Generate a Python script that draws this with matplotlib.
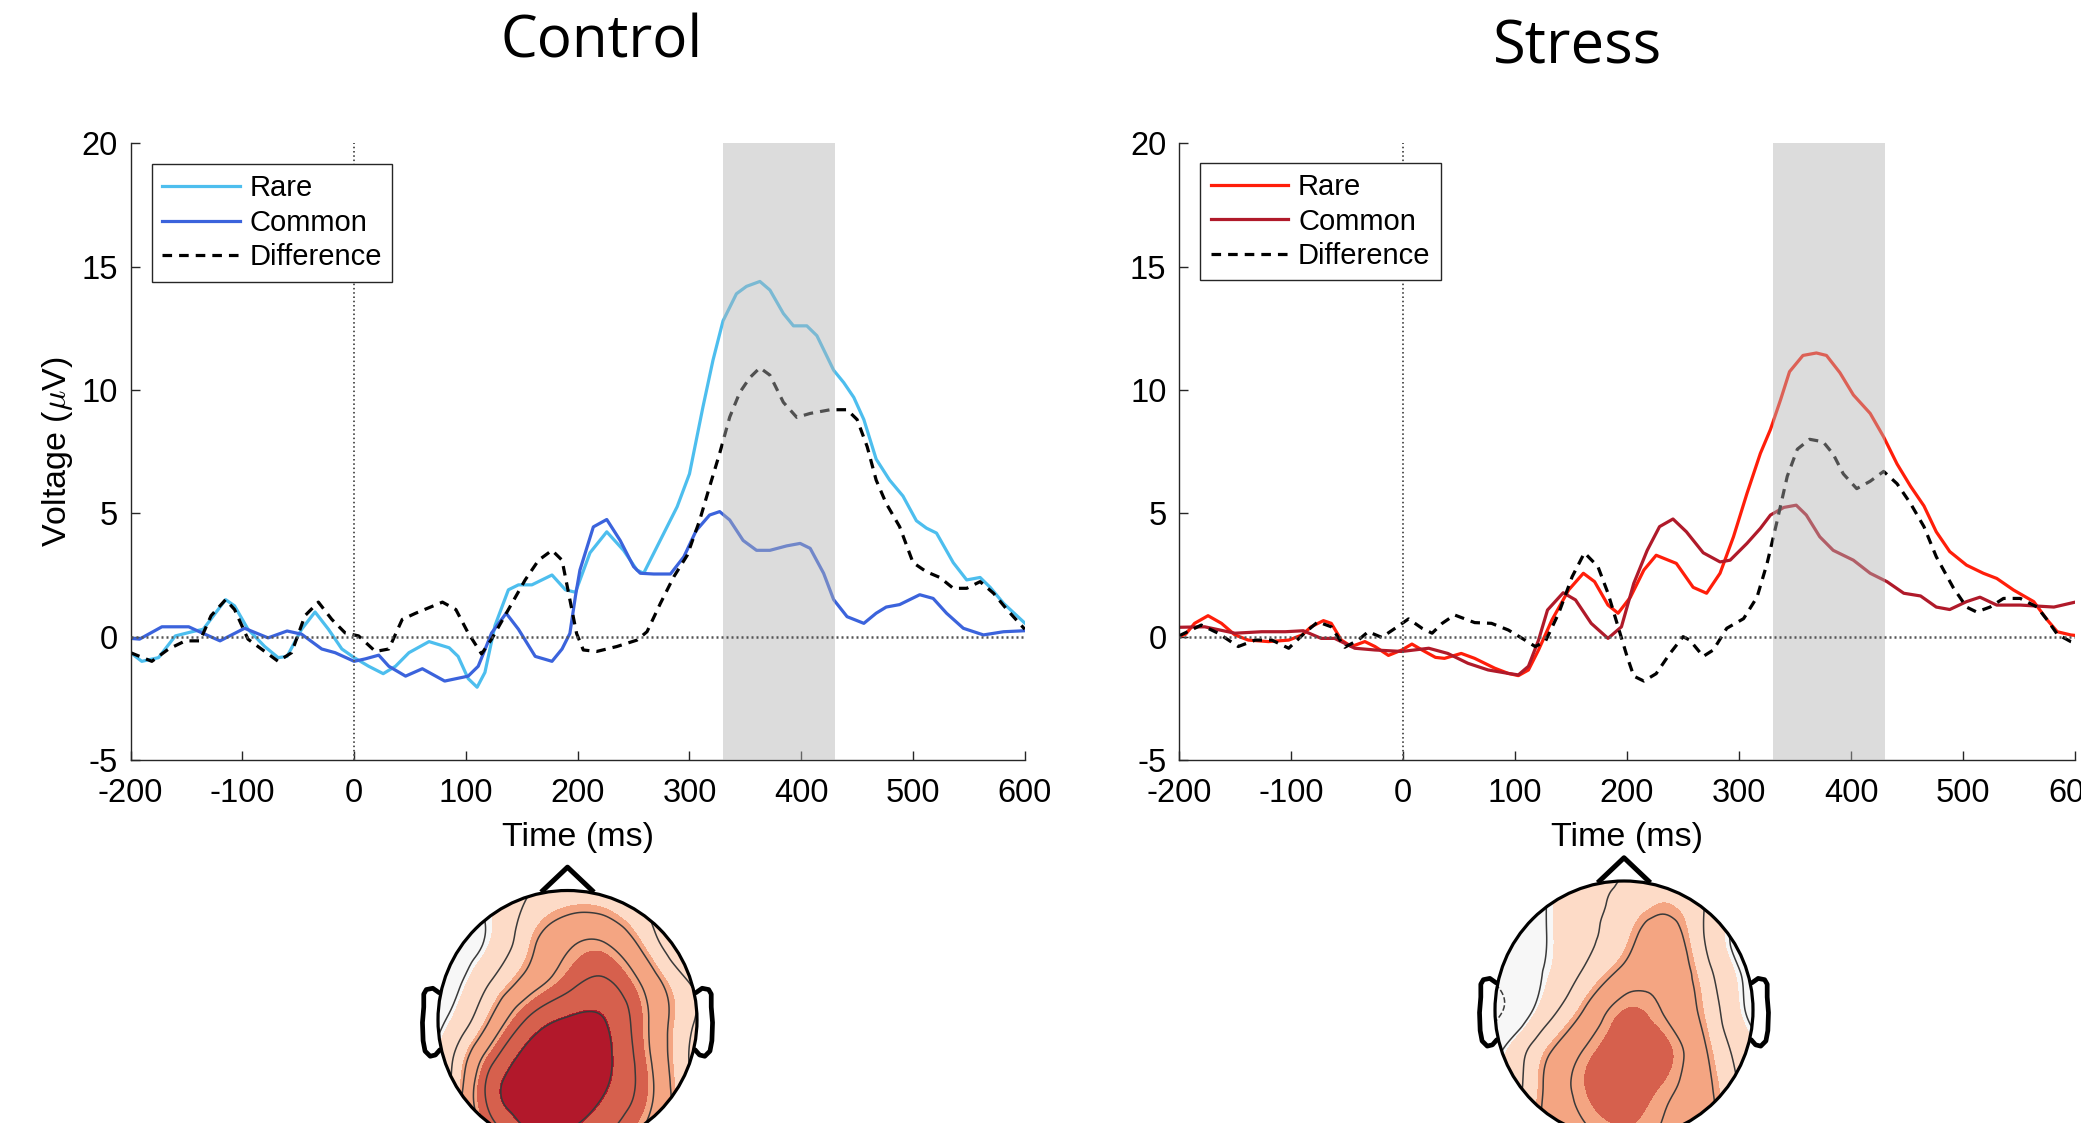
import numpy as np
import matplotlib
matplotlib.use("Agg")
import matplotlib.pyplot as plt
import matplotlib.tri as mtri
from matplotlib.patches import Circle

plt.rcParams['font.family'] = ['Liberation Sans', 'DejaVu Sans']
plt.rcParams['axes.unicode_minus'] = False
plt.rcParams['mathtext.fontset'] = 'cm'

# ---------------- ERP data (ms, microvolts) ----------------
ctl_rare_t = [-200, -190, -175, -160, -145, -135, -115, -107, -95, -80, -68, -60, -47, -35, -23, -11, 0, 13, 26, 37,
              49, 67, 85, 93, 102, 110, 117, 126, 138, 147, 159, 177, 189, 198, 211, 226, 241, 253, 259, 271, 289,
              300, 312, 321, 330, 342, 351, 363, 372, 384, 393, 405, 414, 429, 438, 447, 456, 467, 479, 491, 503,
              512, 521, 536, 548, 560, 569, 581, 600]
ctl_rare_v = [-0.65, -1.0, -0.85, 0.03, 0.2, 0.3, 1.5, 1.25, 0.3, -0.4, -0.85, -0.8, 0.3, 1.0, 0.3, -0.5, -0.85, -1.2,
              -1.5, -1.2, -0.65, -0.2, -0.45, -0.8, -1.7, -2.05, -1.45, 0.45, 1.9, 2.1, 2.1, 2.5, 1.9, 1.8, 3.4, 4.25,
              3.5, 2.7, 2.57, 3.65, 5.27, 6.6, 9.3, 11.2, 12.8, 13.9, 14.2, 14.4, 14.05, 13.1, 12.6, 12.6, 12.2, 10.8,
              10.3, 9.7, 8.8, 7.2, 6.35, 5.7, 4.7, 4.4, 4.2, 3.0, 2.3, 2.4, 2.0, 1.35, 0.55]

ctl_common_t = [-200, -192, -172, -148, -136, -120, -98, -77, -60, -47, -29, -17, 0, 10, 22, 31, 46, 61, 81, 102, 111,
                123, 136, 147, 162, 177, 186, 193, 198, 202, 214, 226, 238, 250, 256, 268, 283, 295, 306, 318, 327,
                336, 348, 360, 372, 387, 399, 408, 420, 429, 441, 456, 467, 476, 488, 506, 518, 530, 545, 563, 581, 600]
ctl_common_v = [-0.07, -0.1, 0.4, 0.4, 0.15, -0.17, 0.34, -0.05, 0.23, 0.1, -0.5, -0.65, -1.0, -0.9, -0.75, -1.2, -1.6,
                -1.3, -1.8, -1.6, -1.2, 0.15, 0.95, 0.3, -0.8, -1.0, -0.5, 0.13, 1.65, 2.7, 4.45, 4.75, 3.9, 2.84, 2.57,
                2.54, 2.54, 3.24, 4.3, 4.93, 5.07, 4.73, 3.9, 3.5, 3.5, 3.68, 3.78, 3.58, 2.57, 1.5, 0.81, 0.54, 0.95,
                1.2, 1.3, 1.7, 1.55, 0.95, 0.34, 0.07, 0.2, 0.24]

ctl_diff_t = [-200, -181, -166, -151, -138, -128, -115, -107, -95, -83, -68, -56, -44, -32, -20, -8, 4, 19, 31, 43, 55,
              79, 91, 102, 114, 123, 138, 153, 165, 177, 186, 193, 199, 205, 217, 235, 253, 262, 274, 286, 298, 309,
              318, 327, 336, 345, 354, 363, 372, 384, 396, 408, 426, 441, 450, 459, 467, 476, 488, 500, 512, 524, 536,
              548, 560, 572, 584, 600]
ctl_diff_v = [-0.65, -1.0, -0.5, -0.17, -0.17, 0.85, 1.5, 1.1, -0.1, -0.5, -1.0, -0.65, 0.85, 1.4, 0.7, 0.15, 0.03, -0.6,
              -0.5, 0.7, 0.95, 1.4, 1.1, 0.15, -0.7, -0.1, 1.1, 2.3, 3.1, 3.5, 3.1, 1.5, 0.13, -0.54, -0.6, -0.4, -0.14,
              0.2, 1.35, 2.43, 3.3, 4.7, 6.08, 7.43, 8.9, 9.9, 10.5, 10.9, 10.6, 9.5, 8.89, 9.05, 9.2, 9.2, 8.8, 7.7,
              6.35, 5.4, 4.46, 3.0, 2.63, 2.4, 1.96, 1.96, 2.23, 1.76, 1.1, 0.3]

str_rare_t = [-200, -194, -186, -174, -162, -150, -138, -120, -102, -90, -82, -71, -64, -55, -46, -34, -25, -13, -1, 8,
              17, 29, 37, 52, 64, 82, 94, 103, 112, 121, 133, 148, 161, 171, 183, 192, 203, 215, 226, 244, 259, 271,
              283, 295, 307, 319, 328, 337, 345, 357, 369, 378, 390, 402, 417, 429, 441, 453, 465, 476, 488, 503, 518,
              530, 545, 563, 575, 584, 596, 600]
str_rare_v = [0.0, 0.1, 0.54, 0.85, 0.54, 0.07, -0.14, -0.2, -0.14, 0.07, 0.4, 0.65, 0.54, -0.14, -0.4, -0.2, -0.4, -0.76,
              -0.54, -0.3, -0.54, -0.84, -0.88, -0.68, -0.88, -1.28, -1.49, -1.58, -1.35, -0.54, 0.68, 1.9, 2.57, 2.23,
              1.28, 0.95, 1.6, 2.7, 3.3, 2.97, 2.0, 1.76, 2.57, 4.05, 5.8, 7.43, 8.4, 9.6, 10.74, 11.4, 11.5, 11.4,
              10.7, 9.8, 9.05, 8.1, 7.0, 6.1, 5.3, 4.25, 3.45, 2.9, 2.57, 2.36, 1.89, 1.42, 0.68, 0.2, 0.07, 0.05]

str_common_t = [-200, -177, -150, -126, -105, -89, -73, -61, -43, -25, -1, 23, 40, 58, 76, 94, 103, 112, 121, 129, 143,
                154, 168, 183, 195, 206, 218, 229, 241, 253, 268, 283, 292, 307, 319, 328, 340, 351, 360, 372, 384, 402,
                417, 432, 447, 462, 476, 488, 503, 515, 530, 551, 581, 600]
str_common_v = [0.38, 0.4, 0.14, 0.2, 0.2, 0.24, -0.07, -0.07, -0.47, -0.54, -0.6, -0.47, -0.68, -1.08, -1.35, -1.49,
                -1.55, -1.2, -0.14, 1.08, 1.78, 1.49, 0.54, -0.07, 0.4, 2.16, 3.5, 4.46, 4.77, 4.25, 3.4, 3.03, 3.1,
                3.78, 4.39, 4.93, 5.24, 5.33, 4.93, 4.05, 3.5, 3.1, 2.57, 2.23, 1.76, 1.65, 1.2, 1.1, 1.42, 1.6, 1.28,
                1.28, 1.2, 1.4]

str_diff_t = [-200, -180, -165, -147, -132, -117, -102, -88, -76, -64, -52, -40, -31, -19, -7, 5, 17, 26, 35, 46, 64, 79,
              94, 109, 118, 127, 139, 151, 162, 174, 183, 192, 200, 206, 215, 226, 238, 250, 256, 268, 277, 289, 304,
              316, 325, 334, 343, 352, 363, 375, 384, 393, 405, 417, 429, 441, 453, 465, 476, 491, 503, 512, 524, 536,
              551, 566, 575, 584, 596, 600]
str_diff_v = [0.03, 0.47, 0.14, -0.4, -0.14, -0.14, -0.47, 0.14, 0.6, 0.4, -0.43, -0.14, 0.2, -0.03, 0.34, 0.72, 0.34,
              0.14, 0.54, 0.88, 0.57, 0.54, 0.27, -0.14, -0.4, -0.2, 0.95, 2.43, 3.4, 2.84, 1.76, 0.4, -0.8, -1.6,
              -1.8, -1.5, -0.7, 0.0, -0.14, -0.8, -0.54, 0.34, 0.73, 1.6, 2.97, 4.7, 6.5, 7.6, 8.0, 7.9, 7.4, 6.6, 6.0,
              6.3, 6.7, 6.2, 5.4, 4.46, 3.24, 2.0, 1.2, 1.0, 1.2, 1.55, 1.55, 1.2, 0.68, 0.1, -0.2, -0.25]

window = (330, 430)
x_ticks = [-200, -100, 0, 100, 200, 300, 400, 500, 600]
y_ticks = [-5, 0, 5, 10, 15, 20]
labels = ['Rare', 'Common', 'Difference']

# ---------------- topography (scalp map, microvolts) ----------------
topo_grid = [-1.2, -0.9, -0.6, -0.3, 0.0, 0.3, 0.6, 0.9, 1.2]
# rows from front (top) to back (bottom), columns left to right
ctl_topo = [
    [-0.3, 0.2, 0.8, 1.6, 2.2, 2.0, 1.4, 0.8, 0.3],
    [0.0, 0.5, 1.0, 2.2, 2.9, 2.8, 2.0, 1.2, 0.8],
    [-0.2, 0.3, 1.0, 2.9, 4.3, 4.5, 2.8, 1.1, 0.5],
    [-0.3, 0.4, 2.0, 3.8, 5.3, 5.9, 4.2, 2.2, 1.0],
    [0.0, 1.0, 3.3, 6.0, 7.2, 7.0, 4.8, 2.5, 1.2],
    [0.2, 1.9, 5.3, 7.6, 8.2, 7.3, 5.0, 2.3, 1.0],
    [0.5, 2.2, 6.2, 7.9, 8.0, 6.9, 5.1, 2.5, 1.5],
    [1.5, 2.8, 4.8, 6.8, 6.8, 5.8, 4.2, 2.5, 1.5],
    [1.5, 2.5, 3.8, 5.0, 5.2, 4.6, 3.6, 2.5, 1.5],
]
str_topo = [
    [-0.5, 0.0, 0.5, 1.2, 1.8, 2.2, 1.8, 1.0, 0.3],
    [-0.2, 0.2, 0.8, 1.8, 2.2, 2.8, 2.2, 1.2, 0.5],
    [-0.5, 0.0, 0.8, 1.8, 2.7, 3.8, 2.2, 0.5, 0.0],
    [-0.8, 0.0, 0.9, 2.2, 3.6, 4.3, 2.7, 0.8, 0.0],
    [-1.2, -0.3, 1.5, 3.4, 5.0, 4.5, 3.1, 1.0, 0.0],
    [-0.5, 1.0, 3.0, 4.6, 5.6, 5.3, 3.6, 1.6, 0.5],
    [0.5, 1.3, 3.5, 5.0, 5.6, 4.9, 3.8, 2.0, 1.0],
    [1.0, 2.0, 3.5, 4.5, 5.0, 4.5, 3.8, 2.5, 1.5],
    [1.0, 2.0, 3.2, 4.0, 4.5, 4.2, 3.5, 2.5, 1.5],
]
topo_fill_levels = [-5, -3, -1, 1, 3, 5, 7, 9, 11]
topo_fill_colors = ['#92c5de', '#d1e5f0', '#f7f7f7', '#fddbc7', '#f4a582', '#d6604d', '#b2182b', '#67001f']
topo_line_levels = [-1.7, -0.45, 0.8, 2.05, 3.3, 4.55, 5.8, 7.05]

W, H = 2081, 1123
fig = plt.figure(figsize=(W / 100, H / 100), dpi=100)


def px_axes(left, top, right, bottom):
    return fig.add_axes([left / W, 1 - bottom / H, (right - left) / W, (bottom - top) / H])


def erp_panel(ax, series, colors, legend_x, legend_top):
    ax.axvspan(*window, color='#b3b3b3', alpha=0.45, lw=0, zorder=3)
    handles = []
    for (t, v), c, lab in zip(series[:2], colors, labels[:2]):
        h, = ax.plot(t, v, color=c, lw=2.3, zorder=2, label=lab, solid_joinstyle='round')
        handles.append(h)
    t, v = series[2]
    h, = ax.plot(t, v, color='black', lw=2.3, dashes=(3.0, 2.2), zorder=2, label=labels[2])
    handles.append(h)
    ax.axhline(0, color='#555555', lw=1.8, dashes=(0.8, 1.2), zorder=4)
    ax.axvline(0, color='#555555', lw=1.4, dashes=(0.8, 1.4), zorder=4)
    ax.set_xlim(-200, 600)
    ax.set_ylim(-5, 20)
    ax.set_xticks(x_ticks)
    ax.set_yticks(y_ticks)
    for s in ['top', 'right']:
        ax.spines[s].set_visible(False)
    for s in ['left', 'bottom']:
        ax.spines[s].set_color('#262626')
        ax.spines[s].set_linewidth(1.0)
    ax.tick_params(direction='in', length=6.5, width=1.0, colors='#262626', labelcolor='black', labelsize=23.5)
    ax.tick_params(axis='x', pad=13)
    ax.tick_params(axis='y', pad=9)
    ax.set_xlabel('Time (ms)', fontsize=24.5, labelpad=9)
    leg = ax.legend(handles=handles, loc='upper left', bbox_to_anchor=(legend_x, legend_top), borderaxespad=0,
                    fontsize=21, handlelength=2.65, handletextpad=0.35, labelspacing=0.22, borderpad=0.35,
                    fancybox=False, framealpha=1)
    leg.get_frame().set_edgecolor('#262626')
    leg.get_frame().set_linewidth(1.0)
    leg.set_zorder(6)


ax1 = px_axes(130.6, 143.3, 1024.8, 760)
erp_panel(ax1, [(ctl_rare_t, ctl_rare_v), (ctl_common_t, ctl_common_v), (ctl_diff_t, ctl_diff_v)],
          ['#4dbeee', '#3b63dc'], 0.024, 0.966)
ax1.set_ylabel(r'Voltage ($\mu$V)', fontsize=24.5, labelpad=5)

ax2 = px_axes(1178.9, 143.3, 2075.2, 760)
erp_panel(ax2, [(str_rare_t, str_rare_v), (str_common_t, str_common_v), (str_diff_t, str_diff_v)],
          ['#ff1e0a', '#b01a2a'], 0.024, 0.968)

fig.text(602 / W, 1 - 58 / H, 'Control', ha='center', va='baseline', fontsize=42, family='Open Sans')
fig.text(1577 / W, 1 - 64 / H, 'Stress', ha='center', va='baseline', fontsize=43, family='Open Sans')

# ---------------- scalp maps ----------------
ear_x = [0.99, 1.04, 1.09, 1.11, 1.11, 1.12, 1.115, 1.10, 1.06, 1.02, 0.985]
ear_y = [0.21, 0.245, 0.235, 0.20, 0.10, -0.02, -0.16, -0.24, -0.28, -0.27, -0.23]


def topo(cx, cy, r, rows):
    half = 1.6 * r
    ax = px_axes(cx - half, cy - half, cx + half, cy + half)
    ax.set_xlim(-1.6, 1.6)
    ax.set_ylim(-1.6, 1.6)
    ax.axis('off')
    gx, gy = np.meshgrid(topo_grid, topo_grid[::-1])
    z = np.array(rows, dtype=float)
    tri = mtri.Triangulation(gx.ravel(), gy.ravel())
    tri_f, z_f = mtri.UniformTriRefiner(tri).refine_field(z.ravel(), subdiv=4)
    clip = Circle((0, 0), 1.0, transform=ax.transData)
    cf = ax.tricontourf(tri_f, z_f, levels=topo_fill_levels, colors=topo_fill_colors)
    cf.set_clip_path(clip)
    cl = ax.tricontour(tri_f, z_f, levels=topo_line_levels, colors='#3a3a3a', linewidths=1.1)
    cl.set_clip_path(clip)
    ax.add_patch(Circle((0, 0), 1.0, fill=False, ec='black', lw=2.3, zorder=5))
    ax.plot([-0.19, 0, 0.19], [1.0, 1.18, 1.0], color='black', lw=3.6, zorder=5)
    ax.plot([-x for x in ear_x], ear_y, color='black', lw=3.4, zorder=5, solid_capstyle='round')
    ax.plot(ear_x, ear_y, color='black', lw=3.4, zorder=5, solid_capstyle='round')


topo(567.5, 1020, 129.5, ctl_topo)
topo(1624, 1010, 129, str_topo)

fig.savefig('out.png', dpi=100)
